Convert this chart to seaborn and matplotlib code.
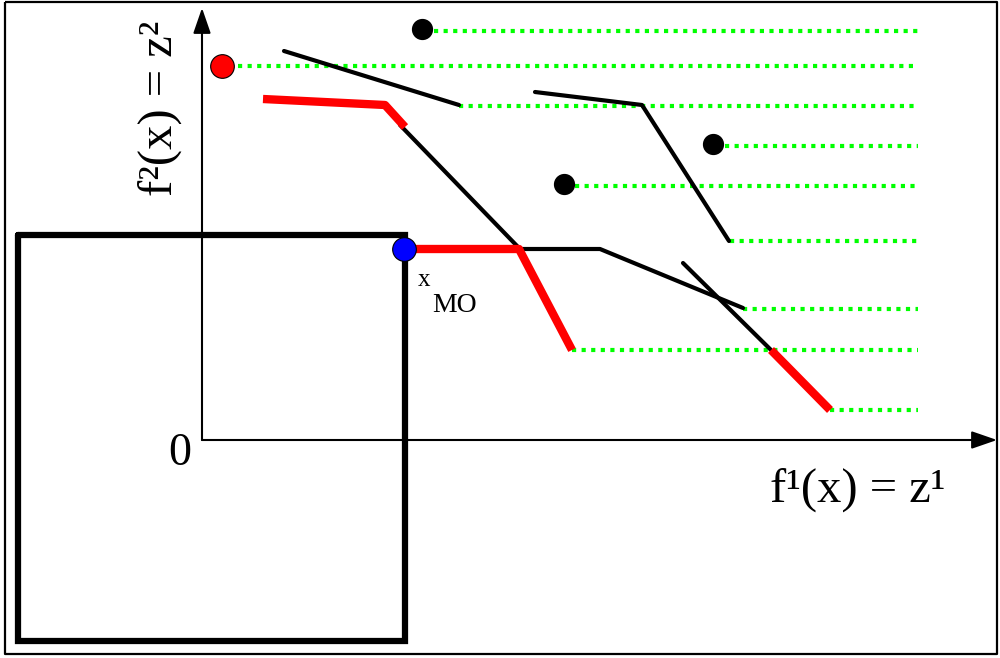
import numpy as np
import pandas as pd
import matplotlib
matplotlib.use("Agg")
import matplotlib.pyplot as plt
import seaborn as sns

# diagram geometry, in picture pixels (y grows downwards)
red_paths = [
    [(263, 99), (385, 105), (405, 127)],
    [(404, 249), (519, 249), (572, 350)],
    [(771, 350), (830, 410)],
]
black_paths = [
    [(400, 125), (519, 248)],
    [(519, 249), (600, 249), (743, 308)],
    [(284, 51), (459, 105)],
    [(535, 92), (642, 105), (729, 241)],
    [(683, 263), (771, 350)],
]
green_start = [434, 238, 459, 725, 575, 730, 743, 572, 830]
green_y = [31, 66, 106, 146, 186, 241, 309, 350, 410]
green_end = 918

black_dots_x = [422, 713, 564]
black_dots_y = [29, 144, 184]
red_dot = (222, 66)
blue_dot = (404, 249)

box = [(18, 235), (405, 235), (405, 641), (18, 641), (18, 235)]
origin = (202, 440)

sns.set_theme(style="white")
plt.rcParams["font.family"] = ["Liberation Serif", "DejaVu Serif"]

fig = plt.figure(figsize=(10, 6.58), dpi=100)
ax = fig.add_axes([0, 0, 1, 1])
ax.set_xlim(0, 1000)
ax.set_ylim(658, 0)
ax.axis("off")


def path_df(pts):
    return pd.DataFrame(pts, columns=["x", "y"])


# outer frame
frame = pd.DataFrame({"x": [5, 997, 997, 5, 5], "y": [2, 2, 654, 654, 2]})
ax.plot(frame.x, frame.y, color="black", lw=1.6, solid_capstyle="butt")

# big box
bdf = path_df(box)
ax.plot(bdf.x, bdf.y, color="black", lw=4.5, solid_joinstyle="miter")

# axes arrows
arrow = dict(arrowstyle="-|>,head_length=1.3,head_width=0.45", color="black", lw=1.5,
             shrinkA=0, shrinkB=0)
ax.annotate("", xy=(origin[0], 8), xytext=origin, arrowprops=arrow)
ax.annotate("", xy=(997, origin[1]), xytext=origin, arrowprops=arrow)

# green dotted levels
for xs, y in zip(green_start, green_y):
    ax.plot([xs, green_end], [y, y], color="#00ff00", lw=3.0,
            dashes=(1.0, 1.3), solid_capstyle="butt", zorder=1)

for p in black_paths:
    d = path_df(p)
    sns.lineplot(data=d, x="x", y="y", sort=False, estimator=None, color="black",
                 lw=3.0, ax=ax, zorder=2)
for p in red_paths:
    d = path_df(p)
    sns.lineplot(data=d, x="x", y="y", sort=False, estimator=None, color="#ff0000",
                 lw=6.0, ax=ax, zorder=3, solid_capstyle="butt")

sns.scatterplot(x=black_dots_x, y=black_dots_y, color="black", s=200, ax=ax,
                edgecolor="black", zorder=4)
sns.scatterplot(x=[red_dot[0]], y=[red_dot[1]], color="#ff0000", s=290, ax=ax,
                edgecolor="black", linewidth=0.8, zorder=4)
sns.scatterplot(x=[blue_dot[0]], y=[blue_dot[1]], color="#0000ff", s=290, ax=ax,
                edgecolor="black", linewidth=0.8, zorder=5)

ax.set_xlabel("")
ax.set_ylabel("")

# text
ax.text(180, 454, "0", fontsize=33, ha="center", va="center", color="black")
ax.text(424, 280, "x", fontsize=18, ha="center", va="center", color="black")
ax.text(455, 306, "MO", fontsize=20, ha="center", va="center", color="black")
ax.text(858, 490, "f\u00b9(x) = z\u00b9", fontsize=35, ha="center", va="center",
        color="black")
ax.text(160, 108, "f\u00b2(x) = z\u00b2", fontsize=35, ha="center", va="center",
        rotation=90, color="black")

fig.savefig("out.png", dpi=100)
